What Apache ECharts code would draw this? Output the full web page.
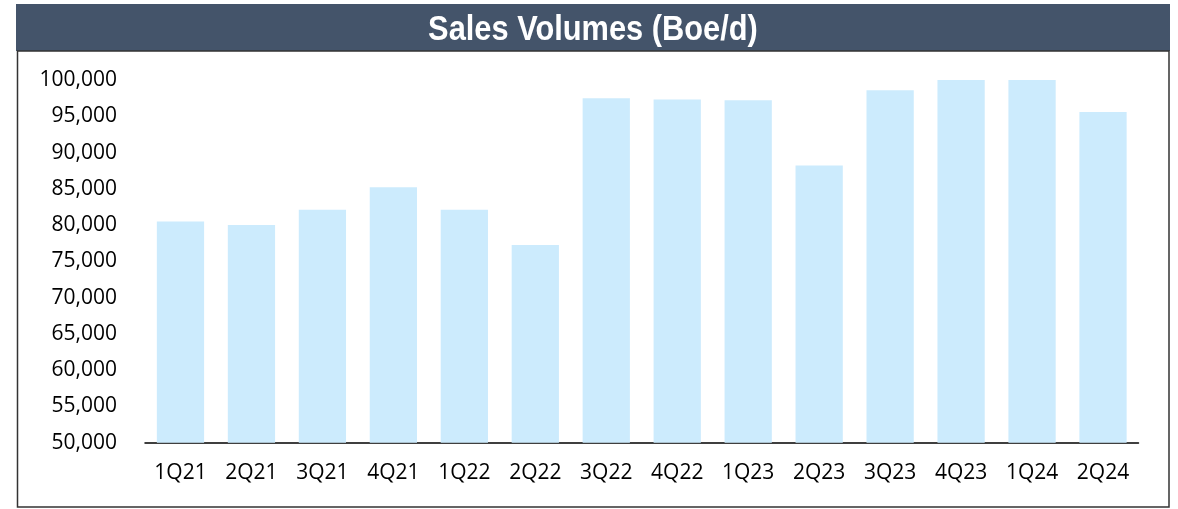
<!DOCTYPE html>
<html>
<head>
<meta charset="utf-8">
<script src="https://cdn.jsdelivr.net/npm/echarts@6/dist/echarts.min.js"></script>
<style>
  html, body { margin: 0; padding: 0; background: #fff; }
  #main { width: 1178px; height: 509px; }
</style>
</head>
<body>
<div id="main"></div>
<script>
const quarters = ['1Q21', '2Q21', '3Q21', '4Q21', '1Q22', '2Q22', '3Q22',
  '4Q22', '1Q23', '2Q23', '3Q23', '4Q23', '1Q24', '2Q24'];
const salesVolumes = [80500, 80000, 82100, 85200, 82100, 77250, 97500,
  97300, 97200, 88200, 98600, 100000, 100000, 95600];
const yTicks = { min: 50000, max: 100000, step: 5000 };

window.onload = function () {
  const chart = echarts.init(document.getElementById('main'));
  const font = 'Open Sans';

  const option = {
    animation: false,
    graphic: [
      {
        type: 'rect',
        z: -1,
        shape: { x: 16, y: 4, width: 1154, height: 47 },
        style: { fill: '#44546A' }
      },
      {
        type: 'rect',
        z: -1,
        shape: { x: 17.5, y: 51, width: 1151.5, height: 456 },
        style: { fill: 'none', stroke: '#333', lineWidth: 1.5 }
      },
      // condensed bold title, squeezed horizontally like Arial Narrow
      {
        type: 'text',
        x: 593,
        y: 30,
        scaleX: 0.88,
        style: {
          text: 'Sales Volumes (Boe/d)',
          fill: '#fff',
          font: 'bold 35px "Liberation Sans"',
          align: 'center',
          verticalAlign: 'middle'
        }
      }
    ],
    grid: { left: 145, right: 39.5, top: 80, bottom: 66.3 },
    xAxis: {
      type: 'category',
      data: quarters,
      axisLine: { lineStyle: { color: '#000', width: 1.5 } },
      axisTick: { show: false },
      axisLabel: {
        color: '#000',
        fontFamily: font,
        fontSize: 21,
        margin: 20
      }
    },
    yAxis: {
      type: 'value',
      min: yTicks.min,
      max: yTicks.max,
      interval: yTicks.step,
      axisLine: { show: false },
      axisTick: { show: false },
      splitLine: { show: false },
      axisLabel: {
        color: '#000',
        fontFamily: font,
        fontSize: 21,
        margin: 28,
        formatter: function (v) { return v.toLocaleString('en-US'); }
      }
    },
    series: [
      {
        type: 'bar',
        data: salesVolumes,
        barCategoryGap: '33.4%',
        itemStyle: { color: '#CCEBFD' }
      }
    ]
  };
  chart.setOption(option);
};
</script>
</body>
</html>
